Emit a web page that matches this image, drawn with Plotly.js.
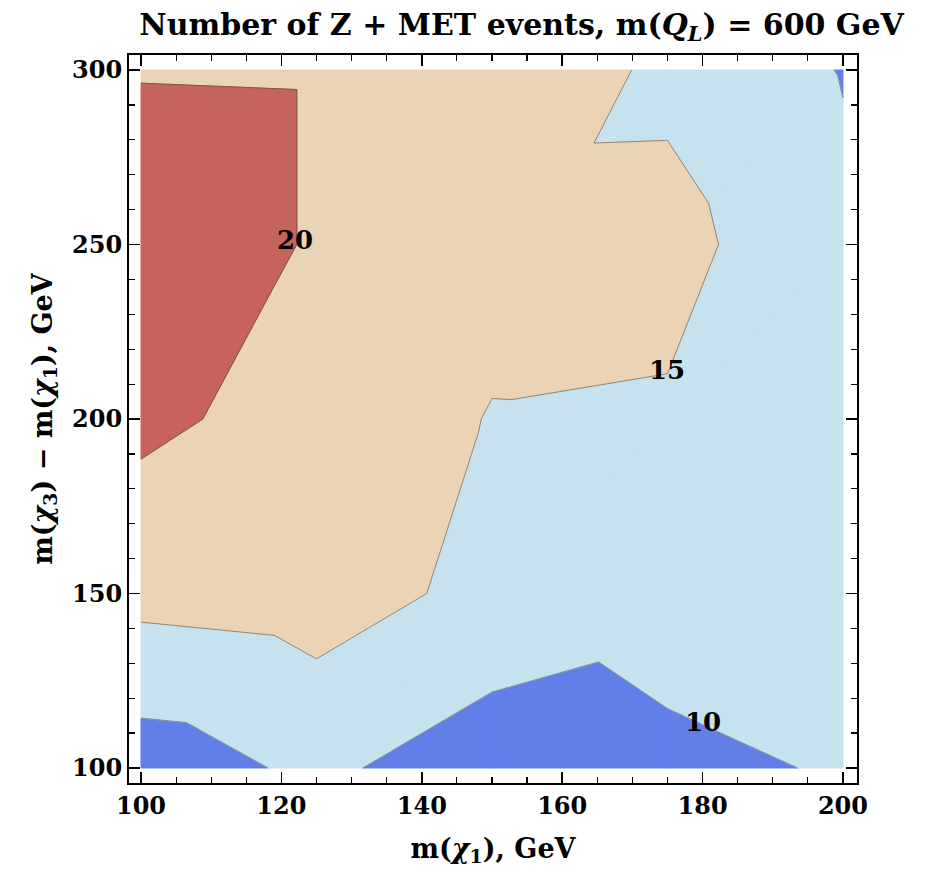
<!DOCTYPE html>
<html>
<head>
<meta charset="utf-8">
<script src="https://cdn.plot.ly/plotly-3.0.1.min.js"></script>
<style>
  html, body { margin: 0; padding: 0; background: #ffffff; }
  #chart { width: 928px; height: 873px; }
</style>
</head>
<body>
<div id="chart"></div>
<script>
// Simulated event counts on the (m(chi1), m(chi3) - m(chi1)) grid
const mChi1 = [100, 125, 150, 175, 200];          // GeV
const massSplit = [100, 150, 200, 250, 300];       // GeV
const eventCounts = [                              // rows follow massSplit
  [7.40, 10.99, 7.24, 9.08, 10.32],
  [16.49, 17.40, 13.58, 11.78, 13.03],
  [21.05, 18.07, 14.80, 14.44, 12.00],
  [22.70, 19.66, 16.50, 16.60, 11.10],
  [19.78, 19.66, 19.20, 13.92, 9.79]
];
const contourLevels = [10, 15, 20];
const bandColors = ['#627ee9', '#c6e2ee', '#ebd4b6', '#c6635c'];

// --- contouring on a triangulated grid (linear interpolation per triangle) ---
function triangles() {
  const tris = [];
  for (let j = 0; j < massSplit.length - 1; j++) {
    for (let i = 0; i < mChi1.length - 1; i++) {
      const bl = [mChi1[i], massSplit[j], eventCounts[j][i]];
      const br = [mChi1[i + 1], massSplit[j], eventCounts[j][i + 1]];
      const tl = [mChi1[i], massSplit[j + 1], eventCounts[j + 1][i]];
      const tr = [mChi1[i + 1], massSplit[j + 1], eventCounts[j + 1][i + 1]];
      tris.push([bl, br, tr]);
      tris.push([bl, tr, tl]);
    }
  }
  return tris;
}
function crossing(P, Q, L) {
  const t = (L - P[2]) / (Q[2] - P[2]);
  return [P[0] + t * (Q[0] - P[0]), P[1] + t * (Q[1] - P[1]), L];
}
function clipHalf(poly, keep, L) {
  const res = [];
  for (let k = 0; k < poly.length; k++) {
    const P = poly[k], Q = poly[(k + 1) % poly.length];
    const pin = keep(P), qin = keep(Q);
    if (pin && qin) res.push(Q);
    else if (pin && !qin) res.push(crossing(P, Q, L));
    else if (!pin && qin) { res.push(crossing(P, Q, L)); res.push(Q); }
  }
  return res;
}

const tris = triangles();
const bounds = [-Infinity].concat(contourLevels, [Infinity]);
const traces = [];

bounds.slice(0, -1).forEach((lo, b) => {
  const hi = bounds[b + 1];
  const bx = [], by = [];
  tris.forEach(tri => {
    let poly = tri;
    if (isFinite(lo)) poly = clipHalf(poly, p => p[2] >= lo, lo);
    if (poly.length && isFinite(hi)) poly = clipHalf(poly, p => p[2] <= hi, hi);
    if (poly.length < 3) return;
    poly.forEach(p => { bx.push(p[0]); by.push(p[1]); });
    bx.push(poly[0][0], null); by.push(poly[0][1], null);
  });
  traces.push({
    type: 'scatter', mode: 'lines', x: bx, y: by,
    fill: 'toself', fillcolor: bandColors[b],
    line: { color: bandColors[b], width: 1 },
    hoverinfo: 'skip', showlegend: false
  });
});

// contour lines
const lx = [], ly = [];
contourLevels.forEach(L => {
  tris.forEach(tri => {
    const pts = [];
    for (let k = 0; k < 3; k++) {
      const P = tri[k], Q = tri[(k + 1) % 3];
      if ((P[2] - L) * (Q[2] - L) < 0) pts.push(crossing(P, Q, L));
    }
    if (pts.length === 2) {
      lx.push(pts[0][0], pts[1][0], null);
      ly.push(pts[0][1], pts[1][1], null);
    }
  });
});
traces.push({
  type: 'scatter', mode: 'lines', x: lx, y: ly,
  line: { color: 'rgba(70,70,70,0.55)', width: 1 },
  hoverinfo: 'skip', showlegend: false
});

const serif = { family: 'DejaVu Serif', color: '#000000', weight: 'bold' };
const labelFont = Object.assign({}, serif, { size: 26 });

const axisCommon = {
  showgrid: false, zeroline: false,
  showline: true, linecolor: '#000000', linewidth: 2, mirror: 'ticks',
  ticks: 'inside', ticklen: 11, tickwidth: 1.5, tickcolor: '#000000',
  minor: { ticks: 'inside', ticklen: 6, tickwidth: 1.2, tickcolor: '#000000' },
  tickfont: Object.assign({}, serif, { size: 24 })
};

const layout = {
  width: 928, height: 873,
  margin: { l: 129, r: 71, t: 55, b: 90 },
  paper_bgcolor: '#ffffff', plot_bgcolor: '#ffffff',
  title: {
    text: 'Number of Z + MET events, m(<i>Q</i><sub><i>L</i></sub>) = 600 GeV',
    font: Object.assign({}, serif, { size: 30 }),
    x: 0.562, xref: 'container', xanchor: 'center',
    y: 0.972, yref: 'container', yanchor: 'middle'
  },
  xaxis: Object.assign({}, axisCommon, {
    range: [98.29, 202.0],
    tickvals: [100, 120, 140, 160, 180, 200],
    minor: Object.assign({}, axisCommon.minor, { dtick: 5, tick0: 100 }),
    title: { text: 'm(<i>χ</i><sub>1</sub>), GeV', font: Object.assign({}, serif, { size: 27 }), standoff: 20 }
  }),
  yaxis: Object.assign({}, axisCommon, {
    range: [95.7, 304.3],
    tickvals: [100, 150, 200, 250, 300],
    minor: Object.assign({}, axisCommon.minor, { dtick: 10, tick0: 100 }),
    title: { text: 'm(<i>χ</i><sub>3</sub>) − m(<i>χ</i><sub>1</sub>), GeV', font: Object.assign({}, serif, { size: 27 }), standoff: 12 }
  }),
  annotations: [
    { x: 121.9, y: 251.3, text: String(contourLevels[2]), showarrow: false, font: labelFont },
    { x: 174.9, y: 214.0, text: String(contourLevels[1]), showarrow: false, font: labelFont },
    { x: 180.1, y: 113.2, text: String(contourLevels[0]), showarrow: false, font: labelFont }
  ]
};

Plotly.newPlot('chart', traces, layout, { staticPlot: true, displayModeBar: false });
</script>
</body>
</html>
